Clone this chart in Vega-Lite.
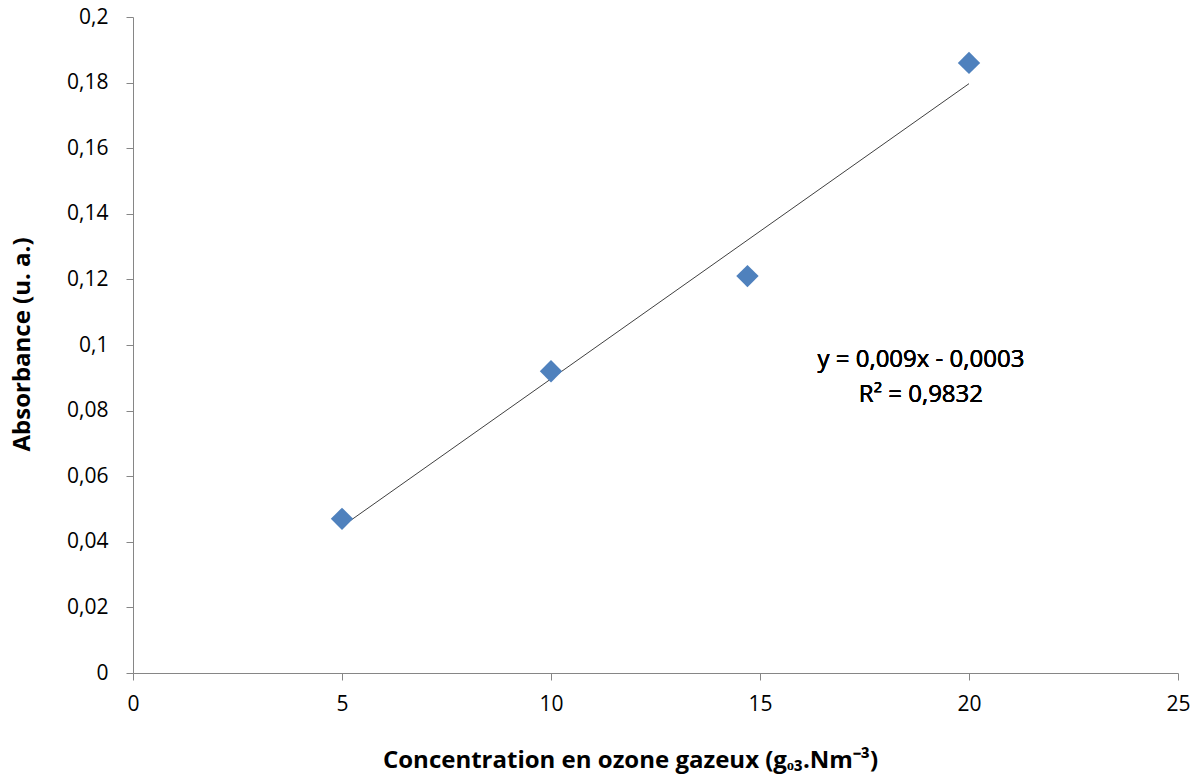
{
  "$schema": "https://vega.github.io/schema/vega-lite/v6.json",
  "width": 1045,
  "height": 656,
  "autosize": {"type": "none"},
  "padding": {"left": 133, "top": 17, "right": 23, "bottom": 105},
  "background": "white",
  "config": {
    "view": {"stroke": null},
    "font": "Open Sans",
    "axis": {
      "grid": false,
      "labelFlush": false,
      "domainColor": "#868686",
      "tickColor": "#868686",
      "domainWidth": 1,
      "tickWidth": 1,
      "tickSize": 7,
      "labelFont": "Open Sans",
      "labelFontSize": 21,
      "labelFontWeight": "normal",
      "labelColor": "#000000",
      "titleFont": "Open Sans",
      "titleFontSize": 24,
      "titleFontWeight": "bold",
      "titleColor": "#000000"
    }
  },
  "data": {
    "values": [
      {"concentration": 5, "absorbance": 0.047},
      {"concentration": 10, "absorbance": 0.092},
      {"concentration": 14.7, "absorbance": 0.121},
      {"concentration": 20, "absorbance": 0.186}
    ]
  },
  "layer": [
    {
      "transform": [{"regression": "absorbance", "on": "concentration"}],
      "mark": {"type": "line", "color": "#404040", "strokeWidth": 1},
      "encoding": {
        "x": {"field": "concentration", "type": "quantitative"},
        "y": {"field": "absorbance", "type": "quantitative"}
      }
    },
    {
      "mark": {"type": "point", "shape": "diamond", "filled": true, "size": 500, "color": "#4F81BD", "opacity": 1},
      "encoding": {
        "x": {
          "field": "concentration",
          "type": "quantitative",
          "scale": {"domain": [0, 25], "nice": false, "zero": false},
          "axis": {
            "values": [0, 5, 10, 15, 20, 25],
            "labelPadding": 13,
            "title": "Concentration en ozone gazeux (gₒ₃.Nm⁻³)",
            "titleX": 497,
            "titleY": 87,
            "titleBaseline": "middle",
            "titleAlign": "center"
          }
        },
        "y": {
          "field": "absorbance",
          "type": "quantitative",
          "scale": {"domain": [0, 0.2], "nice": false},
          "axis": {
            "values": [0, 0.02, 0.04, 0.06, 0.08, 0.1, 0.12, 0.14, 0.16, 0.18, 0.2],
            "labelExpr": "replace(toString(round(datum.value*100)/100), '.', ',')",
            "labelPadding": 18,
            "title": "Absorbance (u. a.)",
            "titleX": -111,
            "titleY": 327,
            "titleAngle": -90,
            "titleBaseline": "middle",
            "titleAlign": "center"
          }
        }
      }
    },
    {
      "mark": {"type": "text", "text": "y = 0,009x - 0,0003", "fontSize": 24, "font": "Open Sans", "fontWeight": "normal", "color": "#000000", "align": "center", "baseline": "middle"},
      "encoding": {
        "x": {"datum": 18.85, "type": "quantitative"},
        "y": {"datum": 0.0954, "type": "quantitative"}
      }
    },
    {
      "mark": {"type": "text", "text": "R² = 0,9832", "fontSize": 24, "font": "Open Sans", "fontWeight": "normal", "color": "#000000", "align": "center", "baseline": "middle"},
      "encoding": {
        "x": {"datum": 18.85, "type": "quantitative"},
        "y": {"datum": 0.0848, "type": "quantitative"}
      }
    }
  ]
}
